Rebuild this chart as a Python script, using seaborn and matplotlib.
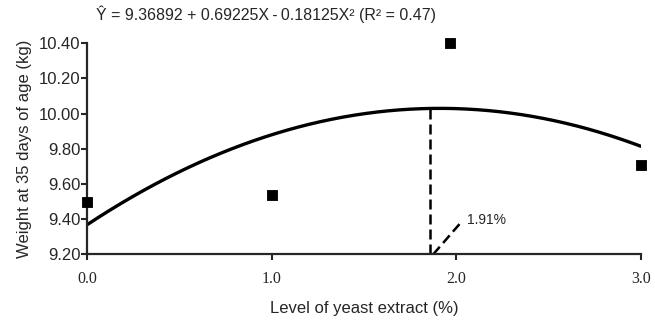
import numpy as np
import pandas as pd
import matplotlib
matplotlib.use("Agg")
import matplotlib.pyplot as plt
import seaborn as sns

# observed means
levels = [0.0, 1.0, 1.965, 3.0]
weights = [9.495, 9.535, 10.40, 9.71]

# fitted quadratic (as printed on the chart)
coefs = [9.36892, 0.69225, -0.18125]
optimum_x = 1.86
optimum_label = "1.91%"
pointer_x = [1.875, 2.02]
pointer_y = [9.20, 9.375]

x_ticks = [0.0, 1.0, 2.0, 3.0]
y_ticks = [9.20, 9.40, 9.60, 9.80, 10.00, 10.20, 10.40]

sns.set_style("ticks")
plt.rcParams['font.family'] = ['Liberation Sans', 'DejaVu Sans']

fig = plt.figure(figsize=(6.55, 3.23), dpi=100)
ax = fig.add_axes([0.1333, 0.2127, 0.8450, 0.6533])

xs = np.linspace(0, 3, 200)
fit = pd.DataFrame({"x": xs, "y": coefs[0] + coefs[1] * xs + coefs[2] * xs ** 2})
sns.lineplot(data=fit, x="x", y="y", ax=ax, color="black", linewidth=2.4)

pts = pd.DataFrame({"level": levels, "weight": weights})
sns.scatterplot(data=pts, x="level", y="weight", ax=ax, marker="s", s=60,
                color="black", edgecolor="black", zorder=5, clip_on=False)

top = coefs[0] + coefs[1] * optimum_x + coefs[2] * optimum_x ** 2
ax.plot([optimum_x, optimum_x], [9.20, top], color="black", linewidth=1.8,
        linestyle=(0, (4, 2)))
ax.plot(pointer_x, pointer_y, color="black", linewidth=1.8, linestyle=(0, (4, 2)))
ax.text(pointer_x[1] + 0.04, pointer_y[1] + 0.02, optimum_label, fontsize=10,
        ha="left", va="center")

ax.set_xlim(0, 3)
ax.set_ylim(9.20, 10.40)
ax.set_xticks(x_ticks)
ax.set_xticklabels([f"{v:.1f}" for v in x_ticks], family="Liberation Serif", fontsize=11.5)
ax.set_yticks(y_ticks)
ax.set_yticklabels([f"{v:.2f}" for v in y_ticks], fontsize=12)
ax.tick_params(direction="out", length=4, width=1.5, pad=1)
ax.tick_params(axis="x", pad=8)

for s in ["left", "bottom"]:
    ax.spines[s].set_linewidth(1.6)
sns.despine(ax=ax)

ax.set_xlabel("Level of yeast extract (%)", fontsize=12, labelpad=10)
ax.set_ylabel("Weight at 35 days of age (kg)", fontsize=12, labelpad=5)
ax.set_title("Ŷ = 9.36892 + 0.69225X\u2009-\u20090.18125X² (R² = 0.47)", fontsize=11.5,
             loc="left", x=0.015, pad=17)

fig.savefig("out.png", dpi=100)
